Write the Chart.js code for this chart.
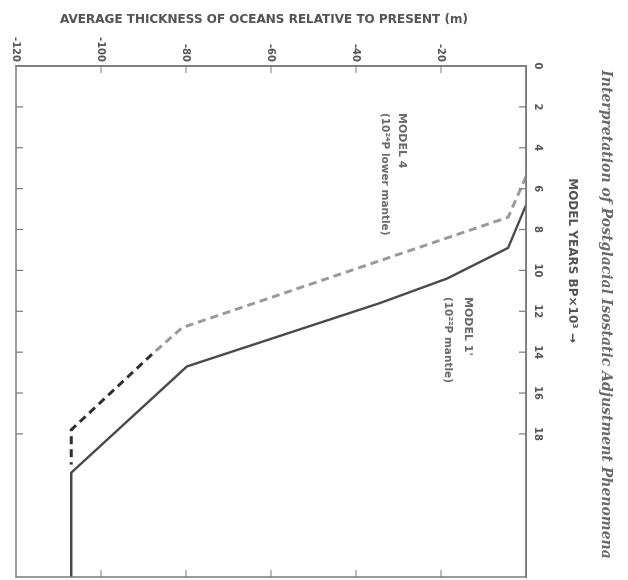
<!DOCTYPE html>
<html><head><meta charset="utf-8">
<script src="https://cdn.jsdelivr.net/npm/chart.js@4.4.1/dist/chart.umd.min.js"></script>
<style>
html,body{margin:0;padding:0;background:#fff;overflow:hidden;width:628px;height:580px;}
#wrap{position:absolute;left:0;top:0;width:580px;height:628px;transform-origin:0 0;transform:translate(628px,0) rotate(90deg);}
</style></head><body>
<div id="wrap"><canvas id="c" width="580" height="628"></canvas></div>
<script>
// ---- data ----
const yearTicks = [0, 2, 4, 6, 8, 10, 12, 14, 16, 18];
const thicknessTicks = [-120, -100, -80, -60, -40, -20, 0];
const model4Years = [5.4, 7.4, 12.8, 14.1, 17.8, 19.5];
const model4Thickness = [0, -4.2, -80.9, -88.0, -107.0, -107.0];
const model1Years = [6.8, 8.9, 10.4, 11.6, 14.7, 19.9, 25.0];
const model1Thickness = [0, -4.2, -18.6, -34.4, -79.8, -107.0, -107.0];
const model4DarkFromYear = 14.1;
const noteTexts = ["MODEL 4", "(10²⁴P lower mantle)", "MODEL 1'", "(10²²P mantle)"];
const noteYears = [2.3, 2.3, 11.3, 11.3];
const noteThickness = [-29.2, -33.2, -13.6, -18.4];

const toPts = (xs, ys) => xs.map((x, i) => ({x: x, y: ys[i]}));
const GRAY_TXT = '#555';
const AXIS = '#7a7a7a';

const frame = {
  id: 'frame',
  afterDraw(chart) {
    const {ctx, chartArea: a, scales: {x, y}} = chart;
    ctx.save();
    ctx.strokeStyle = AXIS;
    ctx.lineWidth = 1.5;
    ctx.strokeRect(a.left, a.top, a.right - a.left, a.bottom - a.top);
    ctx.lineWidth = 1.2;
    const L = 7;
    ctx.beginPath();
    yearTicks.forEach(v => {
      if (v <= 0) return;
      const px = x.getPixelForValue(v);
      ctx.moveTo(px, a.top); ctx.lineTo(px, a.top + L);
      ctx.moveTo(px, a.bottom); ctx.lineTo(px, a.bottom - L);
    });
    thicknessTicks.forEach(v => {
      if (v <= -120 || v >= 0) return;
      const py = y.getPixelForValue(v);
      ctx.moveTo(a.left, py); ctx.lineTo(a.left + L, py);
      ctx.moveTo(a.right, py); ctx.lineTo(a.right - L, py);
    });
    ctx.stroke();
    // notes
    ctx.fillStyle = '#6a6a6a';
    ctx.textAlign = 'left';
    ctx.textBaseline = 'middle';
    noteTexts.forEach((t, i) => {
      ctx.font = (t.startsWith('(') ? 'bold 10.5px' : 'bold 11px') + ' "DejaVu Sans", sans-serif';
      ctx.fillText(t, x.getPixelForValue(noteYears[i]), y.getPixelForValue(noteThickness[i]));
    });
    ctx.restore();
  }
};

const titleShift = {
  id: 'titleShift',
  afterLayout(chart) {
    const tb = chart.titleBlock;
    if (tb) { tb.left += 26; tb.right += 26; }
  },
  beforeDraw(chart) {
    const shifts = {x: -61, y: 7};
    for (const id in shifts) {
      const s = chart.scales[id];
      if (!s || s.__patched) continue;
      const orig = s.drawTitle;
      const d = shifts[id];
      s.drawTitle = function () {
        if (this.isHorizontal()) {
          const l = this.left, r = this.right;
          this.left += d; this.right += d; orig.call(this); this.left = l; this.right = r;
        } else {
          const t = this.top, b = this.bottom;
          this.top += d; this.bottom += d; orig.call(this); this.top = t; this.bottom = b;
        }
      };
      s.__patched = true;
    }
  }
};

new Chart(document.getElementById('c'), {
  type: 'line',
  data: {
    datasets: [
      {
        label: "MODEL 4",
        data: toPts(model4Years, model4Thickness),
        borderColor: '#9a9a9a',
        borderWidth: 3,
        borderDash: [8, 5],
        pointRadius: 0,
        tension: 0,
        segment: {
          borderColor: c => c.p0.parsed.x >= model4DarkFromYear - 1e-6 ? '#2f2f2f' : '#9a9a9a'
        }
      },
      {
        label: "MODEL 1'",
        data: toPts(model1Years, model1Thickness),
        borderColor: '#4a4a4a',
        borderWidth: 2.4,
        pointRadius: 0,
        tension: 0
      }
    ]
  },
  options: {
    responsive: false,
    animation: false,
    events: [],
    layout: {padding: {left: 0, right: 3, top: 0, bottom: 16}},
    plugins: {
      legend: {display: false},
      tooltip: {enabled: false},
      title: {
        display: true,
        text: 'Interpretation of Postglacial Isostatic Adjustment Phenomena',
        color: '#6a6a6a',
        font: {family: '"DejaVu Serif", serif', size: 14, style: 'italic', weight: 'bold', lineHeight: 1.2},
        padding: {top: 14, bottom: 0}
      }
    },
    scales: {
      x: {
        type: 'linear',
        position: 'top',
        min: 0, max: 25,
        afterBuildTicks: s => { s.ticks = yearTicks.map(v => ({value: v})); },
        afterFit: s => { s.height = 102 - 30.8; },
        ticks: {autoSkip: false, maxRotation: 0, minRotation: 0, padding: 6, color: GRAY_TXT,
                font: {family: '"DejaVu Sans", sans-serif', size: 10, weight: 'bold'}},
        grid: {drawOnChartArea: false, drawTicks: false},
        border: {display: true, color: AXIS, width: 1.5},
        title: {display: true, text: 'MODEL YEARS BP×10³ →', color: GRAY_TXT,
                font: {family: '"DejaVu Sans", sans-serif', size: 12, weight: 'bold', lineHeight: 1.2},
                padding: {top: 18, bottom: 0}}
      },
      y: {
        type: 'linear',
        position: 'left',
        min: -120, max: 0,
        afterBuildTicks: s => { s.ticks = thicknessTicks.map(v => ({value: v})); },
        afterFit: s => { s.width = 66; },
        ticks: {padding: 4, color: GRAY_TXT, callback: v => (v === 0 ? '' : String(v)),
                font: {family: '"DejaVu Sans", sans-serif', size: 10, weight: 'bold'}},
        grid: {drawOnChartArea: false, drawTicks: false},
        border: {display: true, color: AXIS, width: 1.5},
        title: {display: true, text: 'AVERAGE THICKNESS OF OCEANS RELATIVE TO PRESENT (m)', color: GRAY_TXT,
                font: {family: '"DejaVu Sans", sans-serif', size: 12, weight: 'bold', lineHeight: 1.2},
                padding: {top: 13, bottom: 0}}
      }
    }
  },
  plugins: [frame, titleShift]
});
</script>
</body></html>
